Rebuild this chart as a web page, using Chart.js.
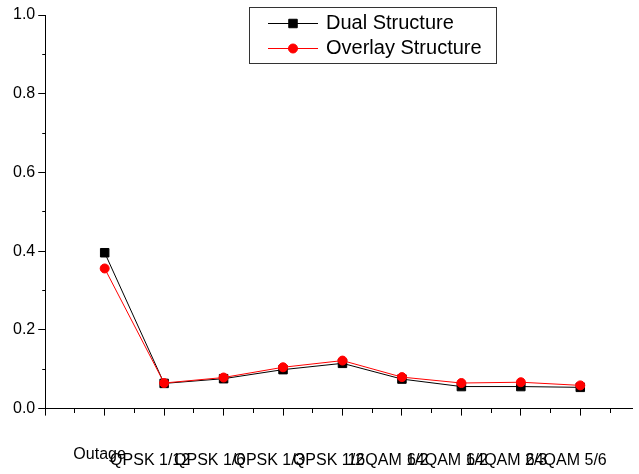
<!DOCTYPE html>
<html>
<head>
<meta charset="utf-8">
<script src="https://cdn.jsdelivr.net/npm/chart.js@4/dist/chart.umd.min.js"></script>
<style>
  body { margin: 0; background: #fff; }
  canvas { display: block; }
</style>
</head>
<body>
<canvas id="outageChart" width="639" height="474"></canvas>
<script>
// =====================================
// DATA
// =====================================

const categories = [
    "Outage",
    "QPSK 1/12",
    "QPSK 1/6",
    "QPSK 1/3",
    "QPSK 1/2",
    "16QAM 1/2",
    "64QAM 1/2",
    "64QAM 2/3",
    "64QAM 5/6"
];

const dualValues = [0.396, 0.064, 0.076, 0.099, 0.115, 0.075, 0.056, 0.056, 0.054];

const overlayValues = [0.356, 0.065, 0.079, 0.105, 0.122, 0.080, 0.065, 0.067, 0.059];

const yTickLabels = ["0.0", "0.2", "0.4", "0.6", "0.8", "1.0"];

const seriesNames = ["Dual Structure", "Overlay Structure"];


const FONT = "Arial, 'Liberation Sans', sans-serif";


function toPoints(values){

    return values.map((v, i) => ({ x: i, y: v }));

}


function isWhole(v){

    return Math.abs(v - Math.round(v)) < 1e-6;

}


// =====================================
// LEGEND (boxed, line + marker)
// =====================================

const boxLegend = {

    id: "boxLegend",

    afterDraw(chart){

        const ctx = chart.ctx;

        const left = 249.5, top = 7.5, width = 247, height = 56;

        ctx.save();

        ctx.fillStyle = "#fff";
        ctx.fillRect(left, top, width, height);

        ctx.strokeStyle = "#333";
        ctx.lineWidth = 1;
        ctx.strokeRect(left, top, width, height);

        chart.data.datasets.forEach((ds, i) => {

            const y = 23.5 + i * 25;

            ctx.strokeStyle = ds.borderColor;
            ctx.lineWidth = 1;
            ctx.beginPath();
            ctx.moveTo(268, y);
            ctx.lineTo(318, y);
            ctx.stroke();

            ctx.fillStyle = ds.backgroundColor;
            ctx.strokeStyle = ds.borderColor;
            Chart.helpers.drawPoint(ctx, {
                pointStyle: ds.pointStyle,
                radius: ds.pointRadius,
                borderWidth: 1
            }, 293, y);

            ctx.fillStyle = "#000";
            ctx.font = "20px " + FONT;
            ctx.textBaseline = "middle";
            ctx.textAlign = "left";
            ctx.fillText(ds.label, 326, y);

        });

        ctx.restore();

    }

};


// =====================================
// CHART
// =====================================

function createChart(){

    const canvas = document.getElementById("outageChart");

    new Chart(canvas, {

        type: "line",

        data: {

            datasets: [
                {
                    label: seriesNames[0],
                    data: toPoints(dualValues),
                    borderColor: "#000000",
                    backgroundColor: "#000000",
                    borderWidth: 1,
                    pointStyle: "rect",
                    pointRadius: 6,
                    pointBorderWidth: 1,
                    tension: 0,
                    order: 1
                },
                {
                    label: seriesNames[1],
                    data: toPoints(overlayValues),
                    borderColor: "#ff0000",
                    backgroundColor: "#ff0000",
                    borderWidth: 1,
                    pointStyle: "circle",
                    pointRadius: 4.5,
                    pointBorderWidth: 1,
                    tension: 0,
                    order: 0
                }
            ]

        },

        options: {

            responsive: false,
            animation: false,
            devicePixelRatio: 1,

            layout: {
                padding: { top: 15, left: 10, right: 0, bottom: -32 }
            },

            plugins: {
                legend: { display: false },
                tooltip: { enabled: false }
            },

            scales: {

                x: {
                    type: "linear",
                    min: -1,
                    max: 8.87,
                    afterBuildTicks(scale){
                        const t = [];
                        for (let v = -1; v <= 8.5; v += 0.5) t.push({ value: v });
                        scale.ticks = t;
                    },
                    border: { display: true, color: "#000", width: 1 },
                    grid: {
                        drawOnChartArea: false,
                        drawTicks: true,
                        tickLength: 7,
                        tickColor: "#000",
                        tickWidth: 1,
                        tickBorderDash: (c) => isWhole(c.tick.value) ? [] : [4, 100]
                    },
                    ticks: {
                        autoSkip: false,
                        maxRotation: 0,
                        minRotation: 0,
                        padding: 0,
                        labelOffset: -14,
                        color: "#000",
                        // tall line boxes push the labels down, the first one sits higher
                        font: (c) => ({
                            family: FONT,
                            size: 16,
                            lineHeight: (c.tick && c.tick.value === 0) ? 4.9 : 5.65
                        }),
                        callback: (value) => {
                            if (!isWhole(value) || value < 0) return "";
                            const name = categories[Math.round(value)];
                            // first label sits a bit further right in the original
                            return Math.round(value) === 0 ? "    " + name : name;
                        }
                    }
                },

                y: {
                    min: 0,
                    max: 1,
                    border: { display: true, color: "#000", width: 1 },
                    grid: {
                        drawOnChartArea: false,
                        drawTicks: true,
                        tickLength: 7,
                        tickColor: "#000",
                        tickWidth: 1,
                        tickBorderDash: (c) => Math.round(c.tick.value * 10) % 2 === 0 ? [] : [3, 100],
                        tickBorderDashOffset: (c) => Math.round(c.tick.value * 10) % 2 === 0 ? 0 : 99
                    },
                    ticks: {
                        stepSize: 0.1,
                        padding: 3,
                        color: "#000",
                        font: { family: FONT, size: 16 },
                        callback: (value) => {
                            const k = Math.round(value * 10);
                            return k % 2 === 0 ? yTickLabels[k / 2] : "";
                        }
                    }
                }

            }

        },

        plugins: [boxLegend]

    });

}


document.addEventListener("DOMContentLoaded", () => {

    createChart();

});
</script>
</body>
</html>
